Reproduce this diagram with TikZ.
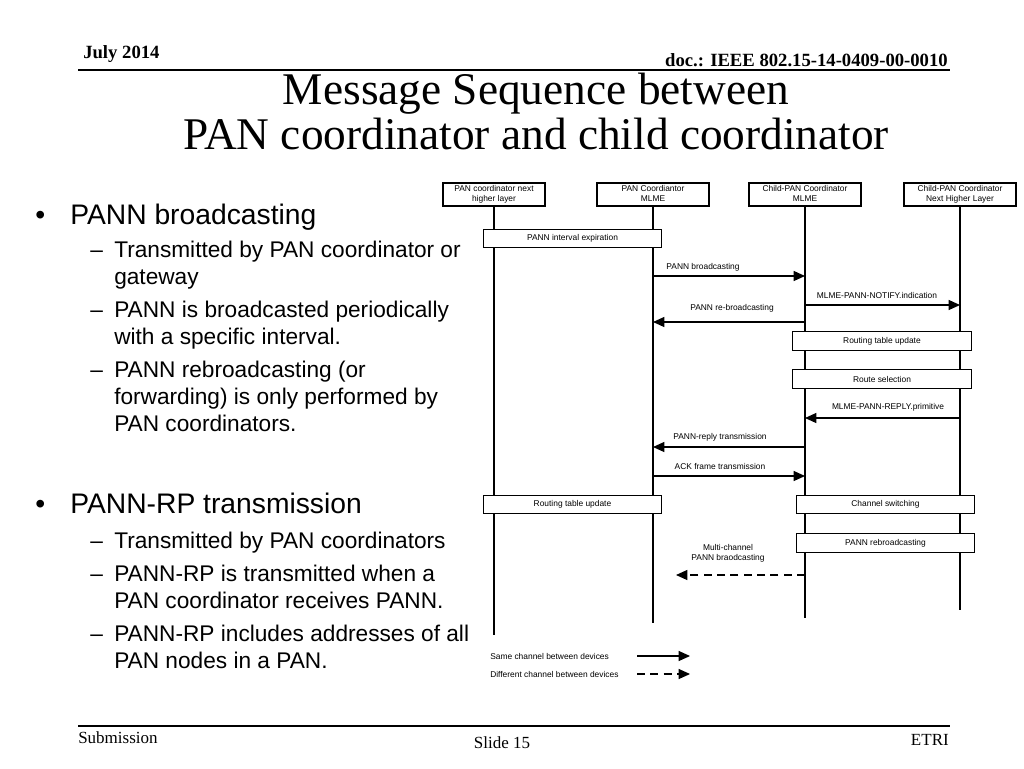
\documentclass[tikz,border=0pt]{standalone}
\usepackage{fontspec}
\setmainfont{Liberation Serif}
\newfontfamily\arialfont{Liberation Sans}
\usetikzlibrary{arrows.meta,positioning}

\tikzset{
  headbox/.style={draw,fill=white,line width=0.8pt,align=center,inner sep=0pt,
    minimum width=84pt,minimum height=17.25pt,text depth=1.6pt,
    font=\arialfont\fontsize{6.3}{7.6}\selectfont},
  procbox/.style={draw,fill=white,line width=0.8pt,inner sep=0pt,
    minimum width=134pt,minimum height=14pt,font=\arialfont\fontsize{6.3}{7.6}\selectfont},
  lifeline/.style={line width=1.4pt},
  msg/.style={line width=0.9pt,-{Triangle[length=8.5pt,width=7.5pt]}},
  dmsg/.style={msg,dash pattern=on 6pt off 4pt},
  msglabel/.style={inner sep=0pt,align=center,font=\arialfont\fontsize{6.3}{7.6}\selectfont},
  toptext/.style={inner sep=0pt,font=\bfseries\fontsize{14}{16}\selectfont},
  foottext/.style={inner sep=0pt,font=\fontsize{12.75}{15}\selectfont},
  titletext/.style={inner sep=0pt,font=\fontsize{34}{40}\selectfont},
  bullettext/.style={inner sep=0pt,anchor=base west,font=\arialfont\fontsize{21.2}{25}\selectfont},
  subtext/.style={inner sep=0pt,anchor=base west,font=\arialfont\fontsize{17}{20}\selectfont},
  rule/.style={line width=1.1pt}
}

\begin{document}
\begin{tikzpicture}[x=0.75pt,y=-0.75pt]
\useasboundingbox (0,0) rectangle (1024,768);
\fill[white] (0,0) rectangle (1024,768);

\node[toptext,anchor=base west] (date) at (83,58) {July 2014};
\node[toptext,anchor=base east] (doc) at (948,66) {doc.: IEEE 802.15-14-0409-00-0010};
\coordinate (tl) at (78,70);
\coordinate (tr) at (950,70);
\draw[rule] (tl) -- (tr);

\node[titletext,anchor=base] (title1) at (536,104) {Message Sequence between};
\node[titletext,anchor=base] (title2) at (536,149) {PAN coordinator and child coordinator};

\node[bullettext] (dot1) at (35,224) {•};
\node[bullettext] (b1) at (70,224) {PANN broadcasting};
\node[subtext] (d11) at (90,257) {–};
\node[subtext] (s11) at (114,257) {Transmitted by PAN coordinator or};
\node[subtext] (s11b) at (114,284) {gateway};
\node[subtext] (d12) at (90,317) {–};
\node[subtext] (s12) at (114,317) {PANN is broadcasted periodically};
\node[subtext] (s12b) at (114,344) {with a specific interval.};
\node[subtext] (d13) at (90,377) {–};
\node[subtext] (s13) at (114,377) {PANN rebroadcasting (or};
\node[subtext] (s13b) at (114,404) {forwarding) is only performed by};
\node[subtext] (s13c) at (114,431) {PAN coordinators.};

\node[bullettext] (dot2) at (35,513) {•};
\node[bullettext] (b2) at (70,513) {PANN-RP transmission};
\node[subtext] (d21) at (90,548) {–};
\node[subtext] (s21) at (114,548) {Transmitted by PAN coordinators};
\node[subtext] (d22) at (90,581) {–};
\node[subtext] (s22) at (114,581) {PANN-RP is transmitted when a};
\node[subtext] (s22b) at (114,608) {PAN coordinator receives PANN.};
\node[subtext] (d23) at (90,641) {–};
\node[subtext] (s23) at (114,641) {PANN-RP includes addresses of all};
\node[subtext] (s23b) at (114,668) {PAN nodes in a PAN.};

\node[headbox,minimum width=76.5pt] (h1) at (494,194.5) {PAN coordinator next\\higher layer};
\node[headbox] (h2) at (653,194.5) {PAN Coordiantor\\MLME};
\node[headbox] (h3) at (805,194.5) {Child-PAN Coordinator\\MLME};
\node[headbox] (h4) at (960,194.5) {Child-PAN Coordinator\\Next Higher Layer};

\coordinate (e1) at (494,635);
\coordinate (e2) at (653,623);
\coordinate (e3) at (805,618);
\coordinate (e4) at (960,610);
\draw[lifeline] (h1) -- (e1);
\draw[lifeline] (h2) -- (e2);
\draw[lifeline] (h3) -- (e3);
\draw[lifeline] (h4) -- (e4);

\node[procbox] (expire) at (572.5,238.5) {PANN interval expiration};
\node[procbox] (rtupd1) at (882,341) {Routing table update};
\node[procbox] (rsel) at (882,379) {Route selection};
\node[procbox] (rtupd2) at (572.5,504.5) {Routing table update};
\node[procbox] (chsw) at (885.5,504.5) {Channel switching};
\node[procbox] (rebc) at (885.5,543) {PANN rebroadcasting};

\coordinate (m1s) at (653,276);
\coordinate (m1e) at (805,276);
\draw[msg] (m1s) -- (m1e);
\node[msglabel] (l1) at (703,267) {PANN broadcasting};

\coordinate (m2s) at (805,305);
\coordinate (m2e) at (960,305);
\draw[msg] (m2s) -- (m2e);
\node[msglabel] (l2) at (877,295) {MLME-PANN-NOTIFY.indication};

\coordinate (m3s) at (805,322);
\coordinate (m3e) at (653,322);
\draw[msg] (m3s) -- (m3e);
\node[msglabel] (l3) at (732,308) {PANN re-broadcasting};

\coordinate (m4s) at (960,418);
\coordinate (m4e) at (805,418);
\draw[msg] (m4s) -- (m4e);
\node[msglabel] (l4) at (888,407) {MLME-PANN-REPLY.primitive};

\coordinate (m5s) at (805,447);
\coordinate (m5e) at (653,447);
\draw[msg] (m5s) -- (m5e);
\node[msglabel] (l5) at (720,437) {PANN-reply transmission};

\coordinate (m6s) at (653,476);
\coordinate (m6e) at (805,476);
\draw[msg] (m6s) -- (m6e);
\node[msglabel] (l6) at (720,466) {ACK frame transmission};

\coordinate (m7s) at (805,575);
\coordinate (m7e) at (676,575);
\draw[dmsg] (m7s) -- (m7e);
\node[msglabel] (l7) at (728,553) {Multi-channel\\PANN braodcasting};

\node[msglabel,anchor=west] (leg1) at (490,656) {Same channel between devices};
\coordinate (k1s) at (637,656);
\coordinate (k1e) at (690,656);
\draw[msg] (k1s) -- (k1e);
\node[msglabel,anchor=west] (leg2) at (490,674) {Different channel between devices};
\coordinate (k2s) at (637,674);
\coordinate (k2e) at (690,674);
\draw[dmsg] (k2s) -- (k2e);

\coordinate (bl) at (78,726);
\coordinate (br) at (950,726);
\draw[rule] (bl) -- (br);
\node[foottext,anchor=base west] (sub) at (78,743) {Submission};
\node[foottext,anchor=base] (slide) at (502,748) {Slide 15};
\node[foottext,anchor=base east] (org) at (949,745) {ETRI};
\end{tikzpicture}
\end{document}
